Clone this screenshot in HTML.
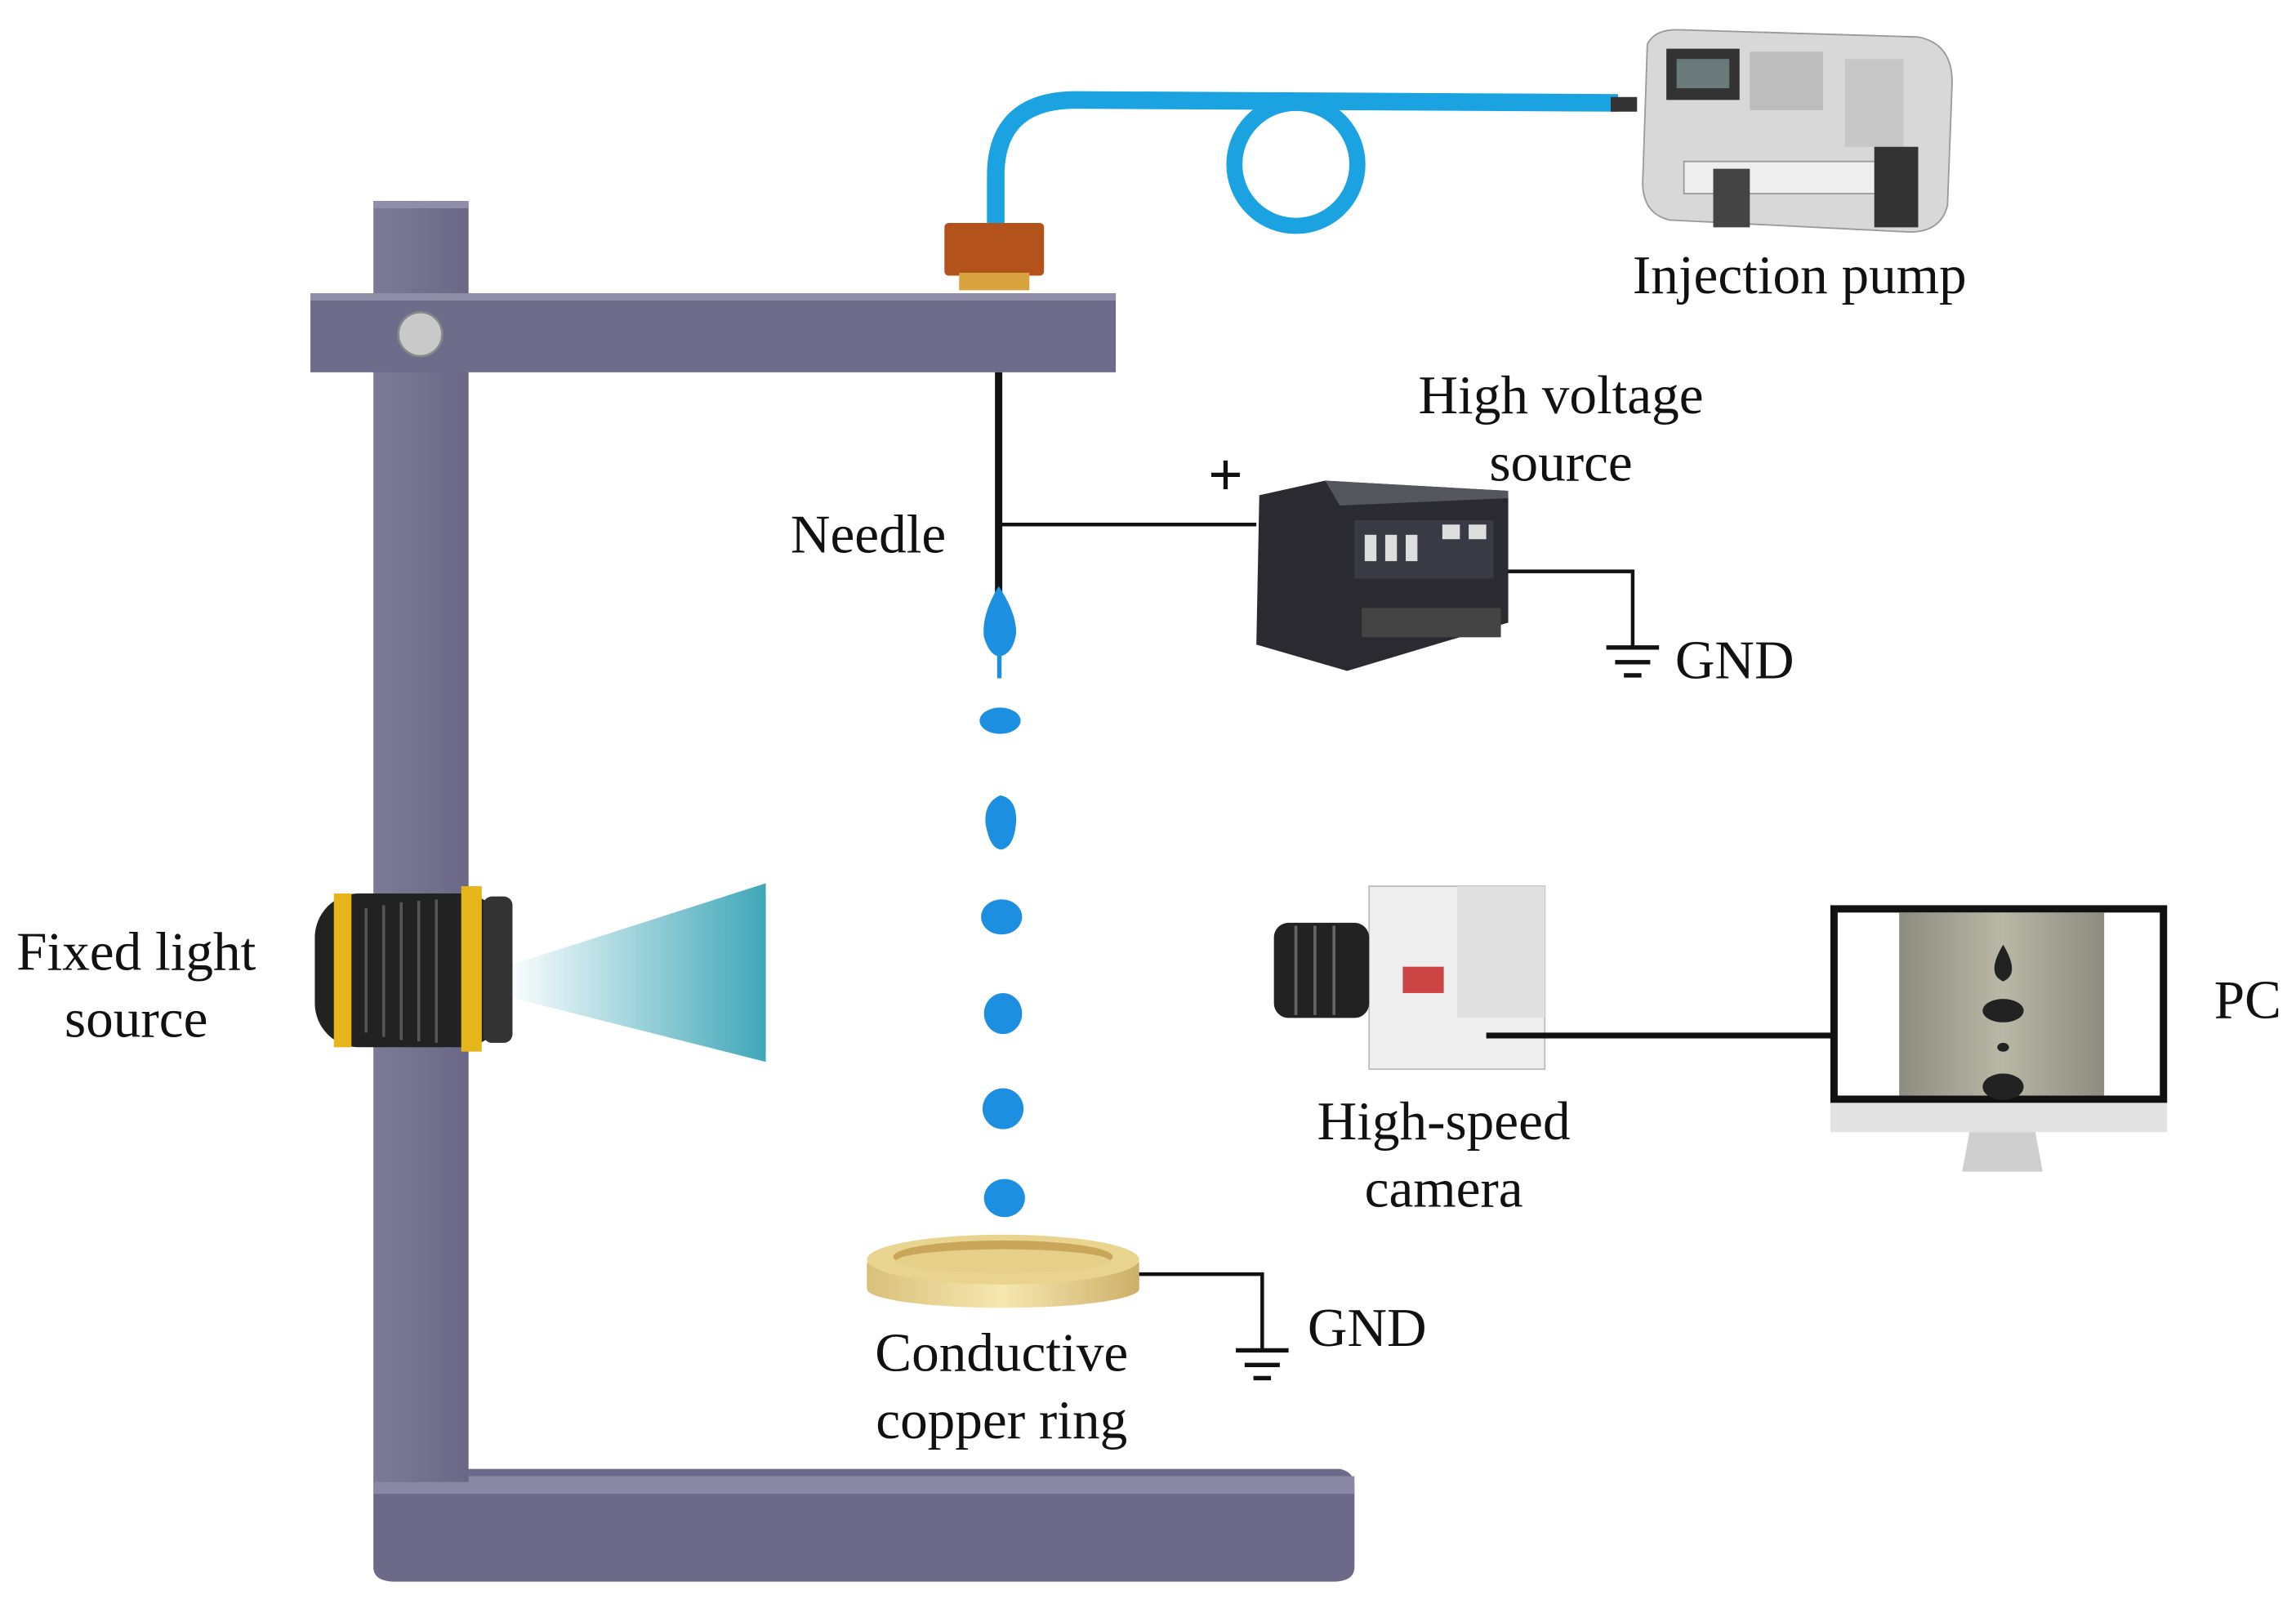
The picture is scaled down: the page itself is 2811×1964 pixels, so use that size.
<!DOCTYPE html>
<html><head><meta charset="utf-8"><style>
html,body{margin:0;padding:0;background:#fff;}
svg{display:block;}
text{font-family:"Liberation Serif",serif;fill:#111;}
</style></head><body>
<svg width="2811" height="1964" viewBox="0 0 1568 1095" xmlns="http://www.w3.org/2000/svg">
<defs>
<linearGradient id="post" x1="0" x2="1"><stop offset="0" stop-color="#7c7a96"/><stop offset="1" stop-color="#6a6886"/></linearGradient>
<linearGradient id="ring" x1="0" x2="1"><stop offset="0" stop-color="#d9c07a"/><stop offset="0.5" stop-color="#f6e7b0"/><stop offset="1" stop-color="#cdb068"/></linearGradient>
<linearGradient id="beam" x1="0" x2="1"><stop offset="0" stop-color="#ffffff"/><stop offset="1" stop-color="#3fa7b8"/></linearGradient>
<linearGradient id="screen" x1="0" x2="1"><stop offset="0" stop-color="#8c8c80"/><stop offset="0.5" stop-color="#b9b8a6"/><stop offset="1" stop-color="#8c8c80"/></linearGradient>
</defs>
<path d="M255 1012 Q255 1003 270 1003 L915 1003 Q925 1005 925 1015 L925 1070 Q925 1080 910 1080 L270 1080 Q255 1080 255 1070 Z" fill="#6c6a88"/>
<path d="M255 1008 L925 1008 L925 1020 L255 1020 Z" fill="#8a88a4"/>
<rect x="255" y="137" width="65" height="875" fill="url(#post)"/>
<rect x="255" y="137" width="65" height="5" fill="#8f8da8"/>
<rect x="212" y="200" width="550" height="54" fill="#6e6c8a"/>
<rect x="212" y="200" width="550" height="5" fill="#8f8da8"/>
<circle cx="287" cy="228" r="15" fill="#c9c9c9" stroke="#888" stroke-width="1.5"/>
<path d="M680 155 L680 120 Q680 68 735 68 L1105 70" fill="none" stroke="#1aa3e0" stroke-width="12"/>
<circle cx="885" cy="112" r="42" fill="none" stroke="#1aa3e0" stroke-width="11"/>
<rect x="1100" y="66" width="18" height="10" fill="#333"/>
<rect x="645" y="152" width="68" height="36" fill="#b4521c" rx="3"/>
<rect x="655" y="186" width="48" height="12" fill="#d9a440"/>
<path d="M1125 30 Q1130 20 1145 20 L1310 25 Q1335 30 1333 60 L1330 140 Q1325 160 1300 158 L1140 150 Q1120 145 1122 120 Z" fill="#d8d8d8" stroke="#999"/>
<rect x="1138" y="33" width="50" height="35" fill="#333"/>
<rect x="1145" y="40" width="36" height="20" fill="#6a7a7a"/>
<rect x="1195" y="35" width="50" height="40" fill="#bdbdbd"/>
<rect x="1260" y="40" width="40" height="60" fill="#c7c7c7"/>
<rect x="1150" y="110" width="150" height="22" fill="#eee" stroke="#999"/>
<rect x="1280" y="100" width="30" height="55" fill="#333"/>
<rect x="1170" y="115" width="25" height="40" fill="#444"/>
<text x="1229" y="200" font-size="37.5" text-anchor="middle">Injection pump</text>
<line x1="682" y1="254" x2="682" y2="405" stroke="#111" stroke-width="5"/>
<line x1="682" y1="358" x2="858" y2="358" stroke="#111" stroke-width="2.5"/>
<text x="837" y="338" font-size="42" font-weight="bold" text-anchor="middle">+</text>
<text x="593" y="377" font-size="37.5" text-anchor="middle">Needle</text>
<path d="M860 338 L905 328 L1030 335 L1030 425 L920 458 L858 440 Z" fill="#2a2a30"/>
<path d="M905 328 L1030 335 L1030 340 L915 345 Z" fill="#55555d"/>
<rect x="925" y="355" width="95" height="40" fill="#3a3a44"/>
<rect x="932" y="365" width="8" height="18" fill="#ddd"/><rect x="946" y="365" width="8" height="18" fill="#ddd"/><rect x="960" y="365" width="8" height="18" fill="#ddd"/>
<rect x="985" y="358" width="12" height="10" fill="#ddd"/><rect x="1003" y="358" width="12" height="10" fill="#ddd"/>
<rect x="930" y="415" width="95" height="20" fill="#444"/>
<text x="1066" y="282" font-size="37.5" text-anchor="middle">High voltage</text>
<text x="1066" y="328" font-size="37.5" text-anchor="middle">source</text>
<polyline points="1030,390 1115,390 1115,442" fill="none" stroke="#111" stroke-width="2.5"/>
<line x1="1097" y1="442" x2="1133" y2="442" stroke="#111" stroke-width="3"/>
<line x1="1103" y1="452" x2="1127" y2="452" stroke="#111" stroke-width="3"/>
<line x1="1109" y1="461" x2="1121" y2="461" stroke="#111" stroke-width="3"/>
<text x="1144" y="463" font-size="37.5">GND</text>
<g fill="#1c8fe0">
<path d="M682 400 Q670 420 672 435 Q676 448 683 448 Q692 446 694 432 Q694 418 682 400 Z"/>
<rect x="681" y="445" width="3" height="18"/>
<ellipse cx="683" cy="492" rx="14" ry="9"/>
<path d="M683 543 Q672 548 673 562 Q676 580 684 580 Q693 578 694 560 Q694 545 683 543 Z"/>
<ellipse cx="684" cy="626" rx="14" ry="12"/>
<ellipse cx="685" cy="692" rx="13" ry="14"/>
<ellipse cx="685" cy="757" rx="14" ry="14"/>
<ellipse cx="686" cy="818" rx="14" ry="13"/>
</g>
<path d="M592 862 L592 880 A93 13 0 0 0 778 880 L778 862 Z" fill="url(#ring)"/>
<ellipse cx="685" cy="860" rx="93" ry="17" fill="#e8d48e"/>
<ellipse cx="685" cy="858" rx="75" ry="11" fill="#c9a65a"/>
<ellipse cx="685" cy="861" rx="73" ry="8" fill="#e6d089"/>
<polyline points="778,870 862,870 862,922" fill="none" stroke="#111" stroke-width="2.5"/>
<line x1="844" y1="922" x2="880" y2="922" stroke="#111" stroke-width="3"/>
<line x1="850" y1="932" x2="874" y2="932" stroke="#111" stroke-width="3"/>
<line x1="856" y1="941" x2="868" y2="941" stroke="#111" stroke-width="3"/>
<text x="893" y="919" font-size="37.5">GND</text>
<text x="684" y="936" font-size="37.5" text-anchor="middle">Conductive</text>
<text x="684" y="982" font-size="37.5" text-anchor="middle">copper ring</text>
<polygon points="345,660 523,603 523,725 345,680" fill="url(#beam)"/>
<rect x="215" y="610" width="130" height="105" rx="30" fill="#222"/>
<rect x="228" y="610" width="12" height="105" fill="#e5b51a"/>
<rect x="315" y="605" width="14" height="113" fill="#e5b51a"/>
<rect x="330" y="612" width="20" height="100" rx="6" fill="#333"/>
<g stroke="#555" stroke-width="2"><line x1="250" y1="620" x2="250" y2="705"/><line x1="262" y1="618" x2="262" y2="708"/><line x1="274" y1="616" x2="274" y2="710"/><line x1="286" y1="615" x2="286" y2="711"/><line x1="298" y1="614" x2="298" y2="712"/></g>
<text x="93" y="662" font-size="37.5" text-anchor="middle">Fixed light</text>
<text x="93" y="708" font-size="37.5" text-anchor="middle">source</text>
<rect x="935" y="605" width="120" height="125" fill="#efefef" stroke="#bbb"/>
<rect x="995" y="605" width="60" height="90" fill="#e0e0e0"/>
<rect x="958" y="660" width="28" height="18" fill="#c44"/>
<rect x="870" y="630" width="65" height="65" rx="10" fill="#222"/>
<g stroke="#666" stroke-width="2"><line x1="885" y1="632" x2="885" y2="693"/><line x1="898" y1="632" x2="898" y2="693"/><line x1="911" y1="632" x2="911" y2="693"/></g>
<line x1="1015" y1="707" x2="1255" y2="707" stroke="#111" stroke-width="4"/>
<text x="986" y="778" font-size="37.5" text-anchor="middle">High-speed</text>
<text x="986" y="824" font-size="37.5" text-anchor="middle">camera</text>
<rect x="1250" y="618" width="230" height="135" fill="#111"/>
<rect x="1255" y="623" width="220" height="125" fill="#fff"/>
<rect x="1297" y="623" width="140" height="125" fill="url(#screen)"/>
<path d="M1368 623 L1368 645 Q1356 665 1368 670 Q1380 665 1368 645" fill="#222"/>
<ellipse cx="1368" cy="690" rx="14" ry="8" fill="#222"/>
<ellipse cx="1368" cy="715" rx="4" ry="3" fill="#222"/>
<ellipse cx="1368" cy="742" rx="14" ry="9" fill="#222"/>
<rect x="1250" y="753" width="230" height="20" fill="#e2e2e2"/>
<path d="M1345 773 L1390 773 L1395 800 L1340 800 Z" fill="#cfcfcf"/>
<text x="1535" y="695" font-size="37.5" text-anchor="middle">PC</text>
</svg>
</body></html>
